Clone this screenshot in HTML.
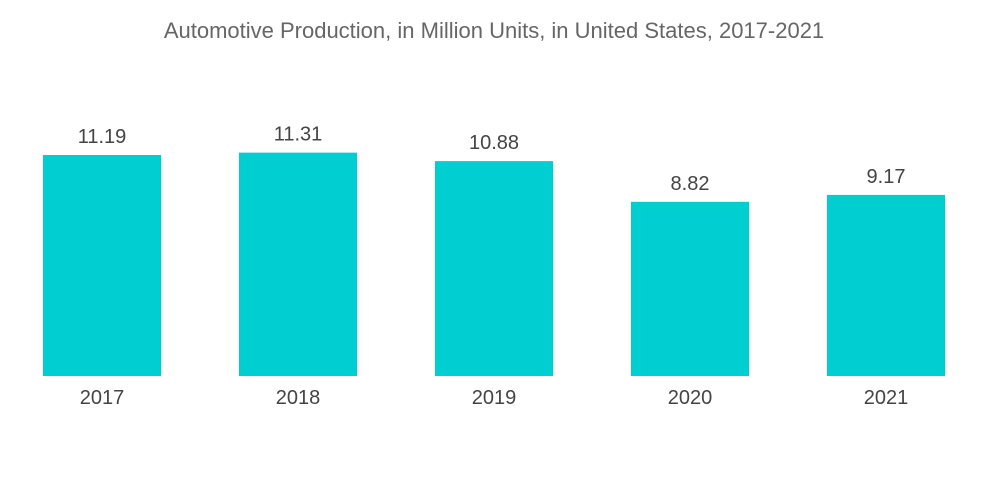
<!DOCTYPE html>
<html><head><meta charset="utf-8"><style>
body{margin:0;background:#fff;width:1000px;height:504px;overflow:hidden}
svg{display:block}
text{font-family:"Liberation Sans",sans-serif}
</style></head><body>
<svg id="c" width="1000" height="504">
<text x="494" y="38" text-anchor="middle" font-size="22" fill="#666">Automotive Production, in Million Units, in United States, 2017-2021</text>
</svg>
<script>
const categories=["2017","2018","2019","2020","2021"];
const values=[11.19,11.31,10.88,8.82,9.17];
const valueLabels=["11.19","11.31","10.88","8.82","9.17"];
const svg=document.getElementById('c');
const NS='http://www.w3.org/2000/svg';
const baseY=376, scale=19.75, x0=43, step=196, bw=118;
function xPos(i){return x0+i*step;}
function yPos(v){return baseY-v*scale;}
categories.forEach((c,i)=>{
  const r=document.createElementNS(NS,'rect');
  r.setAttribute('x',xPos(i));r.setAttribute('y',yPos(values[i]));
  r.setAttribute('width',bw);r.setAttribute('height',baseY-yPos(values[i]));
  r.setAttribute('fill','#00ced1');
  
  
  svg.appendChild(r);
  const t=document.createElementNS(NS,'text');
  t.setAttribute('x',xPos(i)+bw/2);t.setAttribute('y',yPos(values[i])-12);
  t.setAttribute('text-anchor','middle');t.setAttribute('font-size','20');t.setAttribute('fill','#444');
  t.textContent=valueLabels[i];
  
  
  svg.appendChild(t);
  const l=document.createElementNS(NS,'text');
  l.setAttribute('x',xPos(i)+bw/2);l.setAttribute('y',404);
  l.setAttribute('text-anchor','middle');l.setAttribute('font-size','20');l.setAttribute('fill','#444');
  l.textContent=c;
  
  
  svg.appendChild(l);
});
</script>
</body></html>
